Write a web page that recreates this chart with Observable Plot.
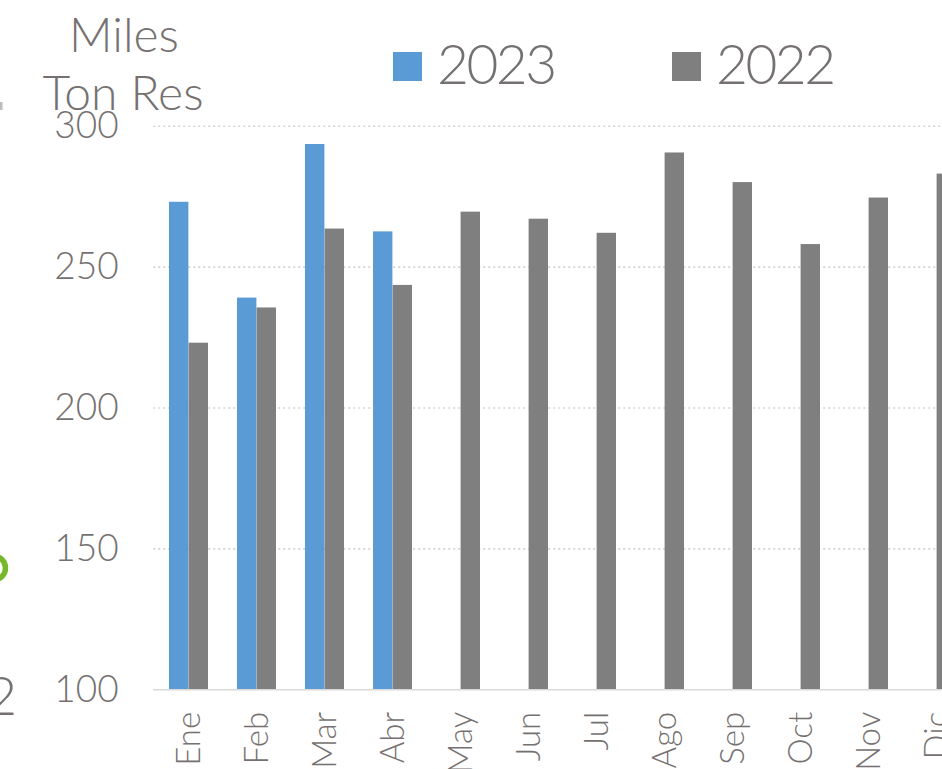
<!DOCTYPE html>
<html>
<head>
<meta charset="utf-8">
<script src="https://cdn.jsdelivr.net/npm/d3@7"></script>
<script src="https://cdn.jsdelivr.net/npm/@observablehq/plot@0.6"></script>
<style>
  html, body { margin: 0; padding: 0; background: #fff; overflow: hidden; }
  #wrap { position: relative; width: 942px; height: 769px; overflow: hidden; font-family: Lato, "Open Sans", sans-serif; font-weight: 300; }
  #chart { position: absolute; left: 0; top: 0; width: 980px; height: 769px; }
  #overlay { position: absolute; left: 0; top: 0; }
  #chart svg { overflow: visible; max-width: none !important; width: 980px; height: 769px; }
  #chart [aria-label^="y-axis"] text { font-size: 37px; font-weight: 300; }
  #chart [aria-label^="x-axis"] text { font-size: 33px; font-weight: 300; }
  #overlay text { font-weight: 300; }
</style>
</head>
<body>
<div id="wrap">
  <div id="chart"></div>
  <svg id="overlay" width="942" height="769"></svg>
</div>
<script>
const months = ["Ene","Feb","Mar","Abr","May","Jun","Jul","Ago","Sep","Oct","Nov","Dic"];
const values2023 = [273, 239, 293.5, 262.5];
const values2022 = [223, 235.5, 263.5, 243.5, 269.5, 267, 262, 290.5, 280, 258, 274.5, 283];
const yTicks = [100, 150, 200, 250, 300];
const seriesNames = ["2023", "2022"];
const seriesColors = ["#5B9BD5", "#7F7F7F"];
const titleLines = ["Miles", "Ton Res"];

const textColor = "#767171";
const data2023 = values2023.map((v, i) => ({month: months[i], value: v, series: seriesNames[0]}));
const data2022 = values2022.map((v, i) => ({month: months[i], value: v, series: seriesNames[1]}));

const half = 19.6;

const chart = Plot.plot({
  width: 980,
  height: 769,
  marginLeft: 153.2,
  marginRight: 8.4,
  marginTop: 125.7,
  marginBottom: 79.7,
  style: {fontFamily: "Lato, 'Open Sans', sans-serif", color: textColor, background: "transparent", overflow: "visible"},
  x: {domain: months, paddingInner: 0.425, paddingOuter: 0.2125, tickSize: 0, tickRotate: -90, tickPadding: 22, label: null},
  y: {domain: [100, 300], ticks: yTicks, tickSize: 0, tickPadding: 35, label: null},
  marks: [
    Plot.ruleY(yTicks.filter(d => d > 100), {stroke: "#D4D4D4", strokeWidth: 1.6, strokeDasharray: "2,3"}),
    Plot.barY(data2023, {x: "month", y1: 100, y2: "value", fill: seriesColors[0], insetRight: half}),
    Plot.barY(data2022, {x: "month", y1: 100, y2: "value", fill: seriesColors[1], insetLeft: half}),
    Plot.ruleY([100], {stroke: "#D9D9D9", strokeWidth: 1.6})
  ]
});
document.getElementById("chart").appendChild(chart);

const ov = d3.select("#overlay");
// title
ov.selectAll("text.title").data(titleLines).join("text")
  .attr("class", "title")
  .attr("x", (d, i) => i === 0 ? 124 : 123)
  .attr("y", (d, i) => i === 0 ? 52 : 110)
  .attr("text-anchor", "middle")
  .attr("fill", textColor)
  .style("font-size", "48px")
  .style("font-family", "Lato, 'Open Sans', sans-serif")
  .text(d => d);
// legend
const legX = [393, 672];
ov.selectAll("rect.leg").data(seriesNames).join("rect")
  .attr("class", "leg")
  .attr("x", (d, i) => legX[i]).attr("y", 52).attr("width", 29).attr("height", 29)
  .attr("fill", (d, i) => seriesColors[i]);
ov.selectAll("text.leg").data(seriesNames).join("text")
  .attr("class", "leg")
  .attr("x", (d, i) => legX[i] + 44).attr("y", 84)
  .attr("fill", textColor)
  .style("font-size", "55px")
  .style("letter-spacing", "-2.5px")
  .style("font-family", "Lato, 'Open Sans', sans-serif")
  .text(d => d);
// fragments of neighbouring content at left edge
ov.append("text").attr("x", 17).attr("y", 715).attr("text-anchor", "end")
  .attr("fill", textColor).style("font-size", "54px")
  .style("font-family", "Lato, 'Open Sans', sans-serif").text("2");
ov.append("circle").attr("cx", -6.5).attr("cy", 568).attr("r", 12)
  .attr("fill", "none").attr("stroke", "#76B82A").attr("stroke-width", 5.5);
ov.append("rect").attr("x", 0).attr("y", 102).attr("width", 2.5).attr("height", 8).attr("fill", "#bdbdbd");
</script>
</body>
</html>
